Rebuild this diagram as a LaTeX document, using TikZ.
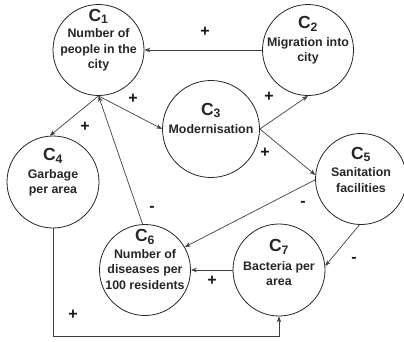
\documentclass[tikz,border=0pt]{standalone}
\usepackage{fontspec}
\setmainfont{Liberation Sans}
\usetikzlibrary{arrows.meta,calc}

\tikzset{
  x=1pt, y=-1pt,
  concept/.style={circle, draw=black!85, line width=0.8pt, minimum size=#1, inner sep=0pt},
  concept/.default=91pt,
  caption/.style={align=center, inner sep=0pt, text=black!85,
    font=\fontsize{12.4}{15.5}\selectfont\bfseries},
  link/.style={draw=black!75, line width=0.7pt, -{Stealth[length=6pt,width=4.5pt]}},
  sign/.style={inner sep=0pt, text=black!90, font=\fontsize{16}{16}\selectfont\bfseries},
}
\newcommand{\cname}[1]{{\fontsize{17.5}{17.5}\selectfont C\textsubscript{#1}}}

\begin{document}
\begin{tikzpicture}
\useasboundingbox (0,0) rectangle (404,341);

% concepts
\node[concept] (c1) at (98.5,50) {};
\node[concept] (c2) at (308,50) {};
\node[concept=97pt] (c3) at (211,129) {};
\node[concept=92pt] (c4) at (53,182) {};
\node[concept] (c5) at (361,179) {};
\node[concept] (c6) at (145,270) {};
\node[concept=92pt] (c7) at (279,270) {};

% concept texts
\node[caption] (t1) at (98.5,40) {\cname{1}\\[1pt]Number of\\people in the\\city};
\node[caption] (t2) at (308,40.5) {\cname{2}\\[2pt]Migration into\\city};
\node[caption] (t3) at (211,118.5) {\cname{3}\\[3pt]Modernisation};
\node[caption] (t4) at (53,172.5) {\cname{4}\\[2pt]Garbage\\per area};
\node[caption] (t5) at (361,169.5) {\cname{5}\\[2pt]Sanitation\\facilities};
\node[caption] (t6) at (145,259.5) {\cname{6}\\[1pt]Number of\\diseases per\\100 residents};
\node[caption] (t7) at (279,262.5) {\cname{7}\\[3pt]Bacteria per\\area};

% causal links
\coordinate (floor) at (0,336);
\draw[link] (c2.west) -- (c1.east);
\draw[link] (c1.south) -- (c4.94);
\draw[link] (c1.south) -- (c3.180);
\draw[link] (c6.93) -- (c1.south);
\draw[link] (c3.east) -- (c2.south);
\draw[link] (c3.east) -- (c5.175);
\draw[link] (c5.181) -- (c6.30);
\draw[link] (c5.268) -- (c7.5);
\draw[link] (c7.west) -- (c6.east);
\draw[link] (c4.south) -- (c4.south |- floor) -| (c7.south);

% polarities
\node[sign] (s21) at (205,32) {+};
\node[sign] (s14) at (85,127) {+};
\node[sign] (s13) at (133,99) {+};
\node[sign] (s61) at (152,209) {-};
\node[sign] (s32) at (269,97) {+};
\node[sign] (s35) at (265,153) {+};
\node[sign] (s56) at (303,204) {-};
\node[sign] (s57) at (354,260) {-};
\node[sign] (s76) at (212,281) {+};
\node[sign] (s47) at (73,315) {+};
\end{tikzpicture}
\end{document}
